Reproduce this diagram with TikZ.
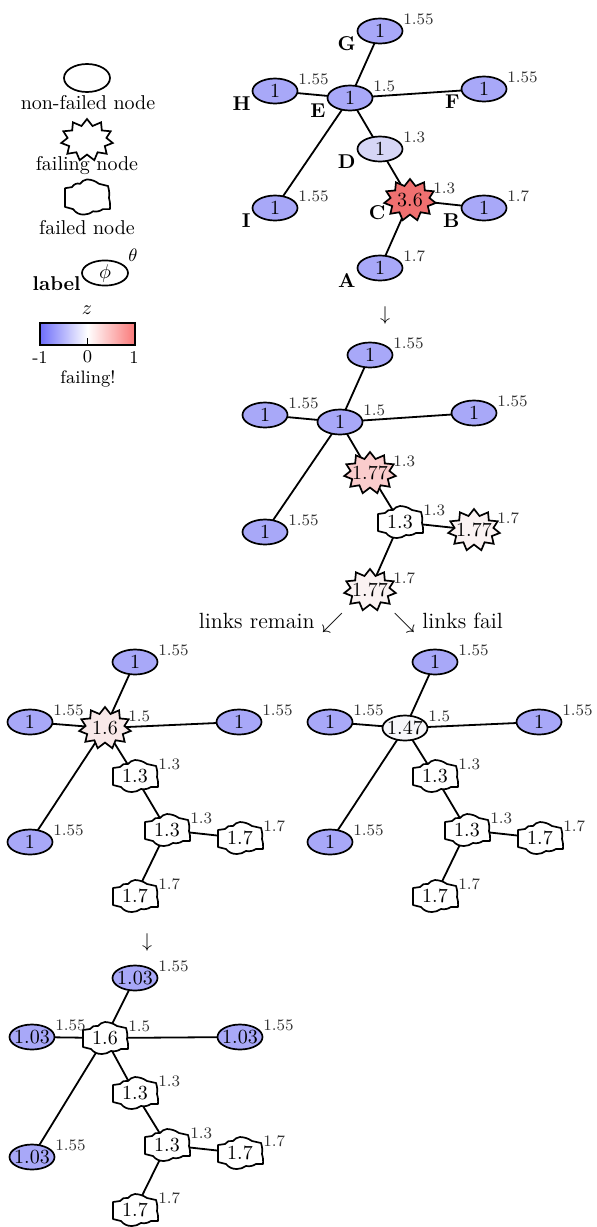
\documentclass[tikz,border=0pt]{standalone}
\usetikzlibrary{shapes.geometric,shapes.symbols,backgrounds}
\definecolor{nodeblue}{RGB}{168,168,248}
\definecolor{dlight}{RGB}{214,214,246}
\definecolor{cred}{RGB}{240,112,112}
\definecolor{pinkA}{RGB}{250,204,204}
\definecolor{pinkB}{RGB}{250,242,242}
\definecolor{pinkC}{RGB}{248,232,232}
\definecolor{nearwhite}{RGB}{246,246,250}
\definecolor{cbblue}{RGB}{110,110,250}
\definecolor{cbred}{RGB}{250,120,120}
\tikzset{
  edge/.style={line width=0.9pt},
  nf/.style={ellipse, draw, line width=0.85pt, inner sep=0pt, minimum width=22.5pt, minimum height=12.5pt, font=\fontsize{10}{12}\selectfont},
  fg/.style={starburst, starburst points=11, random starburst=0, starburst point height=3.2pt, draw, line width=0.85pt, inner sep=0pt, minimum width=26pt, minimum height=21pt, font=\fontsize{10}{12}\selectfont},
  fd/.style={rectangle, inner sep=0pt, minimum width=22pt, minimum height=15pt, font=\fontsize{10}{12}\selectfont},
  th/.style={anchor=west, inner sep=0pt, font=\fontsize{8}{9}\selectfont, text=black!80},
  lt/.style={anchor=east, inner sep=0pt, font=\fontsize{10}{12}\selectfont\bfseries},
  fdline/.style={line width=0.85pt, fill=white, line join=round},
  legtext/.style={font=\fontsize{10}{12}\selectfont, inner sep=0pt},
  cbtext/.style={font=\fontsize{9}{10}\selectfont, inner sep=0pt},
}
\newcommand\gn[6]{%
  \node[#2,fill=#6] (#1) at #3 {\makebox[0pt]{#4}};
  \node[th] (#1t) at ([shift={(23,-12)}]#1.center) {#5};}
\newcommand\fdoutline[2]{%
  \begin{scope}[shift={(#1.center)}, yscale=#2]
    \draw[fdline] (-22,-8) -- (-15,-9) to[bend left=35] (-7,-12)
      to[bend left=20] (0,-16) to[bend left=15] (12,-12) -- (21,-10)
      to[bend left=12] (22,1) to[bend left=10] (23,11)
      -- (16,11) to[bend left=20] (6,13) to[bend left=15] (-3,16)
      to[bend left=25] (-14,11) -- (-22,9) -- cycle;
  \end{scope}}
\begin{document}
\begin{tikzpicture}[x=0.5pt,y=-0.5pt]
\useasboundingbox (0,0) rectangle (597,1227);

% ---------- legend ----------
\node[nf, fill=white, minimum width=23pt, minimum height=14pt] (legnf) at (87,78) {};
\node[legtext] (legnft) at (88,103) {non-failed node};
\node[fg, fill=white, minimum width=26pt, minimum height=21pt] (legfg) at (87,140) {};
\node[legtext] (legfgt) at (87,166) {failing node};
\node[fd, minimum height=17pt] (legfd) at (87,197) {};
\node[legtext] (legfdt) at (87,228) {failed node};
\node[nf, fill=white, minimum width=23pt, minimum height=10.5pt] (legl) at (105,273) {$\phi$};
\node[inner sep=0pt, font=\fontsize{9}{10}\selectfont] (legth) at (133,255) {$\theta$};
\node[lt] (leglab) at (81,284) {label};
\node[legtext] (legz) at (87,310) {$z$};
\shade[left color=cbblue, right color=cbred, middle color=white] (40,323) rectangle (135,345);
\draw[line width=0.8pt] (40,323) rectangle (135,345);
\draw[line width=0.8pt] (87.5,345) -- (87.5,338);
\node[cbtext] (cbm) at (40,357) {-1};
\node[cbtext] (cb0) at (87.5,357) {0};
\node[cbtext] (cbp) at (134,357) {1};
\node[cbtext] (cbf) at (88,379) {failing!};

% ---------- graph 1 ----------
\begin{scope}[shift={(350,98)}]
\gn{g1G}{nf}{(30,-67)}{1}{1.55}{nodeblue}
\gn{g1H}{nf}{(-75,-7)}{1}{1.55}{nodeblue}
\gn{g1E}{nf}{(0,0)}{1}{1.5}{nodeblue}
\gn{g1F}{nf}{(134,-9)}{1}{1.55}{nodeblue}
\gn{g1D}{nf}{(30,51)}{1}{1.3}{dlight}
\gn{g1C}{fg}{(60,102)}{3.6}{1.3}{cred}
\gn{g1B}{nf}{(134,110)}{1}{1.7}{nodeblue}
\gn{g1I}{nf}{(-75,110)}{1}{1.55}{nodeblue}
\gn{g1A}{nf}{(30,170)}{1}{1.7}{nodeblue}
\end{scope}
\foreach \n in {G,H,E,F,D,C,B,I,A}{\node[lt] (g1\n l) at ([shift={(-24,13)}]g1\n.center) {\n};}

\node[legtext] (arr1) at (385,315) {$\downarrow$};

% ---------- graph 2 ----------
\begin{scope}[shift={(340,422)}]
\gn{g2G}{nf}{(30,-67)}{1}{1.55}{nodeblue}
\gn{g2H}{nf}{(-75,-7)}{1}{1.55}{nodeblue}
\gn{g2E}{nf}{(0,0)}{1}{1.5}{nodeblue}
\gn{g2F}{nf}{(134,-9)}{1}{1.55}{nodeblue}
\gn{g2D}{fg}{(30,51)}{1.77}{1.3}{pinkA}
\gn{g2C}{fd}{(60,100)}{1.3}{1.3}{none}
\gn{g2B}{fg}{(134,108)}{1.77}{1.7}{pinkB}
\gn{g2I}{nf}{(-75,110)}{1}{1.55}{nodeblue}
\gn{g2A}{fg}{(30,168)}{1.77}{1.7}{pinkB}
\end{scope}

\node[legtext, anchor=east, font=\fontsize{11}{13}\selectfont] (lrem) at (344,623) {links remain $\swarrow$};
\node[legtext, anchor=west, font=\fontsize{11}{13}\selectfont] (lfail) at (393,623) {$\searrow$ links fail};

% ---------- graph 3 ----------
\begin{scope}[shift={(105,728)}]
\gn{g3G}{nf}{(30,-66)}{1}{1.55}{nodeblue}
\gn{g3H}{nf}{(-75,-6)}{1}{1.55}{nodeblue}
\gn{g3E}{fg}{(0,0)}{1.6}{1.5}{pinkC}
\gn{g3F}{nf}{(134,-6)}{1}{1.55}{nodeblue}
\gn{g3D}{fd}{(30,48)}{1.3}{1.3}{none}
\gn{g3C}{fd}{(62,102)}{1.3}{1.3}{none}
\gn{g3B}{fd}{(135,110)}{1.7}{1.7}{none}
\gn{g3I}{nf}{(-75,114)}{1}{1.55}{nodeblue}
\gn{g3A}{fd}{(30,168)}{1.7}{1.7}{none}
\end{scope}

% ---------- graph 4 ----------
\begin{scope}[shift={(405,728)}]
\gn{g4G}{nf}{(30,-66)}{1}{1.55}{nodeblue}
\gn{g4H}{nf}{(-75,-6)}{1}{1.55}{nodeblue}
\gn{g4E}{nf}{(0,0)}{1.47}{1.5}{nearwhite}
\gn{g4F}{nf}{(134,-6)}{1}{1.55}{nodeblue}
\gn{g4D}{fd}{(30,48)}{1.3}{1.3}{none}
\gn{g4C}{fd}{(62,102)}{1.3}{1.3}{none}
\gn{g4B}{fd}{(135,110)}{1.7}{1.7}{none}
\gn{g4I}{nf}{(-75,114)}{1}{1.55}{nodeblue}
\gn{g4A}{fd}{(30,168)}{1.7}{1.7}{none}
\end{scope}

\node[legtext] (arr2) at (147,942) {$\downarrow$};

% ---------- graph 5 ----------
\begin{scope}[shift={(105,1038)}]
\gn{g5G}{nf}{(30,-60)}{1.03}{1.55}{nodeblue}
\gn{g5H}{nf}{(-73,-1)}{1.03}{1.55}{nodeblue}
\gn{g5E}{fd}{(0,0)}{1.6}{1.5}{none}
\gn{g5F}{nf}{(135,-1)}{1.03}{1.55}{nodeblue}
\gn{g5D}{fd}{(30,55)}{1.3}{1.3}{none}
\gn{g5C}{fd}{(62,107)}{1.3}{1.3}{none}
\gn{g5B}{fd}{(135,115)}{1.7}{1.7}{none}
\gn{g5I}{nf}{(-73,119)}{1.03}{1.55}{nodeblue}
\gn{g5A}{fd}{(30,172)}{1.7}{1.7}{none}
\end{scope}

% ---------- edges and failed outlines ----------
\begin{pgfonlayer}{background}
\foreach \g in {g1,g2,g3,g4,g5}{
  \foreach \a/\b in {G/E,H/E,F/E,I/E,D/E,D/C,C/B,C/A}{
    \draw[edge] (\g\a.center) -- (\g\b.center);}}
\fdoutline{legfd}{1.1}
\fdoutline{g2C}{1}
\foreach \g in {g3,g4}{\foreach \n in {D,C,B,A}{\fdoutline{\g\n}{1}}}
\foreach \n in {E,D,C,B,A}{\fdoutline{g5\n}{1}}
\end{pgfonlayer}
\end{tikzpicture}
\end{document}
